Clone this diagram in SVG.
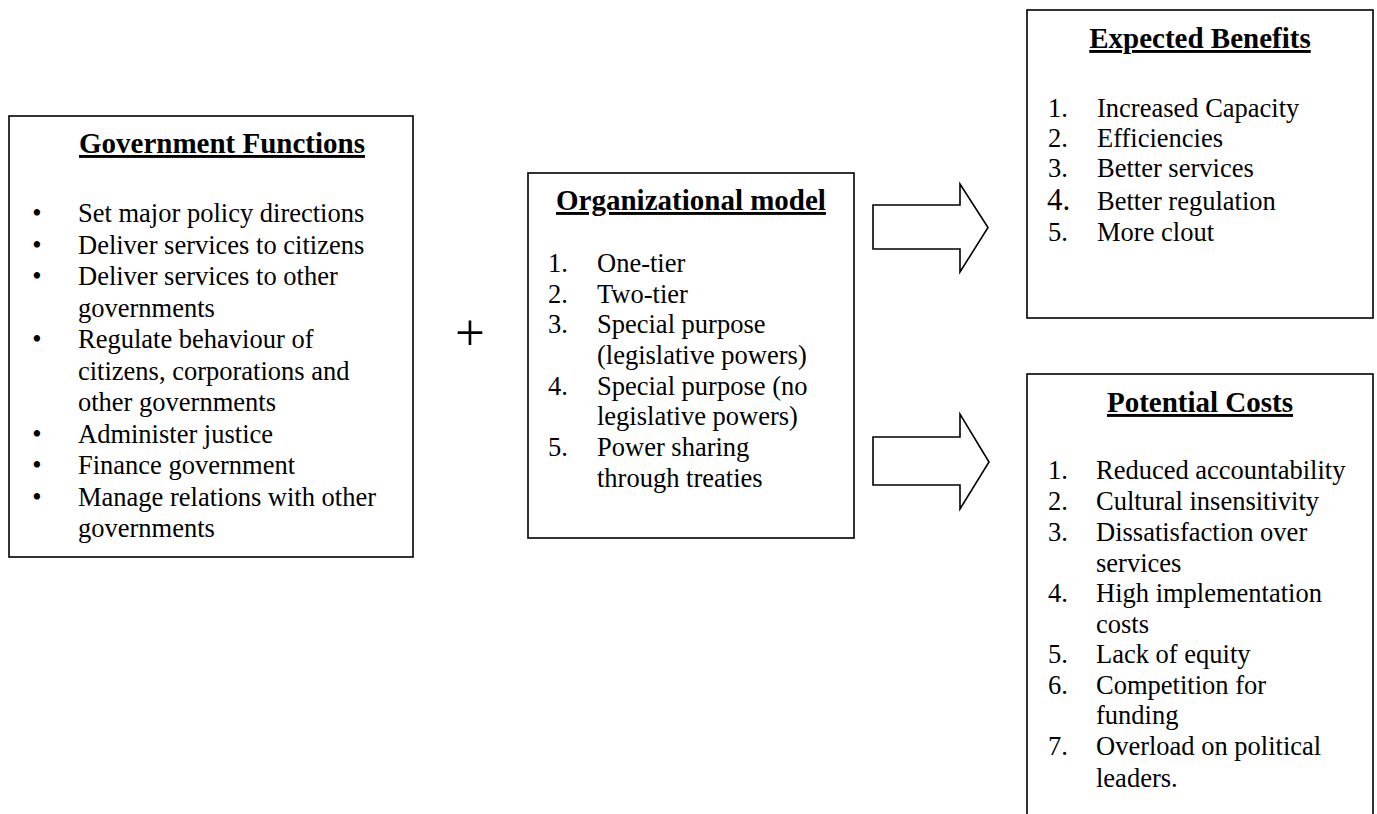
<svg xmlns="http://www.w3.org/2000/svg" width="1377" height="814" viewBox="0 0 1377 814">
<style>
.box{fill:#fff;stroke:#000;stroke-width:1.6}
.arrow{fill:#fff;stroke:#000;stroke-width:1.6;stroke-linejoin:miter}
.title{font-family:"Liberation Serif","Times New Roman",serif;font-size:29px;font-weight:bold;text-decoration:underline;text-anchor:middle;fill:#000}
.t{font-family:"Liberation Serif","Times New Roman",serif;font-size:26.5px;fill:#000}
.bul{font-family:"Liberation Serif","Times New Roman",serif;font-size:26.5px;fill:#000;text-anchor:middle}
.plus{font-family:"Liberation Serif","Times New Roman",serif;font-size:53px;fill:#000;text-anchor:middle}
</style>
<rect width="1377" height="814" fill="#fff"/>
<g id="government-functions">
<rect class="box" x="9" y="116" width="404" height="441"/>
<text class="title" x="222" y="153">Government Functions</text>
<text class="bul" x="37" y="222">•</text><text class="t" x="78" y="222">Set major policy directions</text>
<text class="bul" x="37" y="253.5">•</text><text class="t" x="78" y="253.5">Deliver services to citizens</text>
<text class="bul" x="37" y="285">•</text><text class="t" x="78" y="285">Deliver services to other</text>
<text class="t" x="78" y="316.5">governments</text>
<text class="bul" x="37" y="348">•</text><text class="t" x="78" y="348">Regulate behaviour of</text>
<text class="t" x="78" y="379.5">citizens, corporations and</text>
<text class="t" x="78" y="411">other governments</text>
<text class="bul" x="37" y="442.5">•</text><text class="t" x="78" y="442.5">Administer justice</text>
<text class="bul" x="37" y="474">•</text><text class="t" x="78" y="474">Finance government</text>
<text class="bul" x="37" y="505.5">•</text><text class="t" x="78" y="505.5">Manage relations with other</text>
<text class="t" x="78" y="537">governments</text>
</g>
<g id="plus">
<text class="plus" x="470" y="350">+</text>
</g>
<g id="organizational-model">
<rect class="box" x="528" y="173" width="326" height="365"/>
<text class="title" x="691" y="210">Organizational model</text>
<text class="t" x="548" y="272">1.</text><text class="t" x="597" y="272">One-tier</text>
<text class="t" x="548" y="302.7">2.</text><text class="t" x="597" y="302.7">Two-tier</text>
<text class="t" x="548" y="333.4">3.</text><text class="t" x="597" y="333.4">Special purpose</text>
<text class="t" x="597" y="364">(legislative powers)</text>
<text class="t" x="548" y="394.7">4.</text><text class="t" x="597" y="394.7">Special purpose (no</text>
<text class="t" x="597" y="425.4">legislative powers)</text>
<text class="t" x="548" y="456">5.</text><text class="t" x="597" y="456">Power sharing</text>
<text class="t" x="597" y="487">through treaties</text>
</g>
<g id="expected-benefits">
<rect class="box" x="1027" y="10" width="346" height="308"/>
<text class="title" x="1200" y="48">Expected Benefits</text>
<text class="t" x="1048" y="117">1.</text><text class="t" x="1097" y="117">Increased Capacity</text>
<text class="t" x="1048" y="147">2.</text><text class="t" x="1097" y="147">Efficiencies</text>
<text class="t" x="1048" y="177">3.</text><text class="t" x="1097" y="177">Better services</text>
<text class="t" x="1047" y="210" style="font-size:31px">4.</text><text class="t" x="1097" y="210">Better regulation</text>
<text class="t" x="1048" y="241">5.</text><text class="t" x="1097" y="241">More clout</text>
</g>
<g id="potential-costs">
<rect class="box" x="1027" y="374" width="346" height="460"/>
<text class="title" x="1200" y="412">Potential Costs</text>
<text class="t" x="1048" y="479">1.</text><text class="t" x="1096" y="479">Reduced accountability</text>
<text class="t" x="1048" y="510">2.</text><text class="t" x="1096" y="510">Cultural insensitivity</text>
<text class="t" x="1048" y="541">3.</text><text class="t" x="1096" y="541">Dissatisfaction over</text>
<text class="t" x="1096" y="571.5">services</text>
<text class="t" x="1048" y="602">4.</text><text class="t" x="1096" y="602">High implementation</text>
<text class="t" x="1096" y="632.5">costs</text>
<text class="t" x="1048" y="663">5.</text><text class="t" x="1096" y="663">Lack of equity</text>
<text class="t" x="1048" y="693.5">6.</text><text class="t" x="1096" y="693.5">Competition for</text>
<text class="t" x="1096" y="724">funding</text>
<text class="t" x="1048" y="755">7.</text><text class="t" x="1096" y="755">Overload on political</text>
<text class="t" x="1096" y="787">leaders.</text>
</g>
<g id="connectors">
<polygon class="arrow" points="873,205 960,205 960,184 988,227.5 960,272 960,249 873,249"/>
<polygon class="arrow" points="873,437 960,437 960,414 989,462 960,509 960,485 873,485"/>
</g>
</svg>
